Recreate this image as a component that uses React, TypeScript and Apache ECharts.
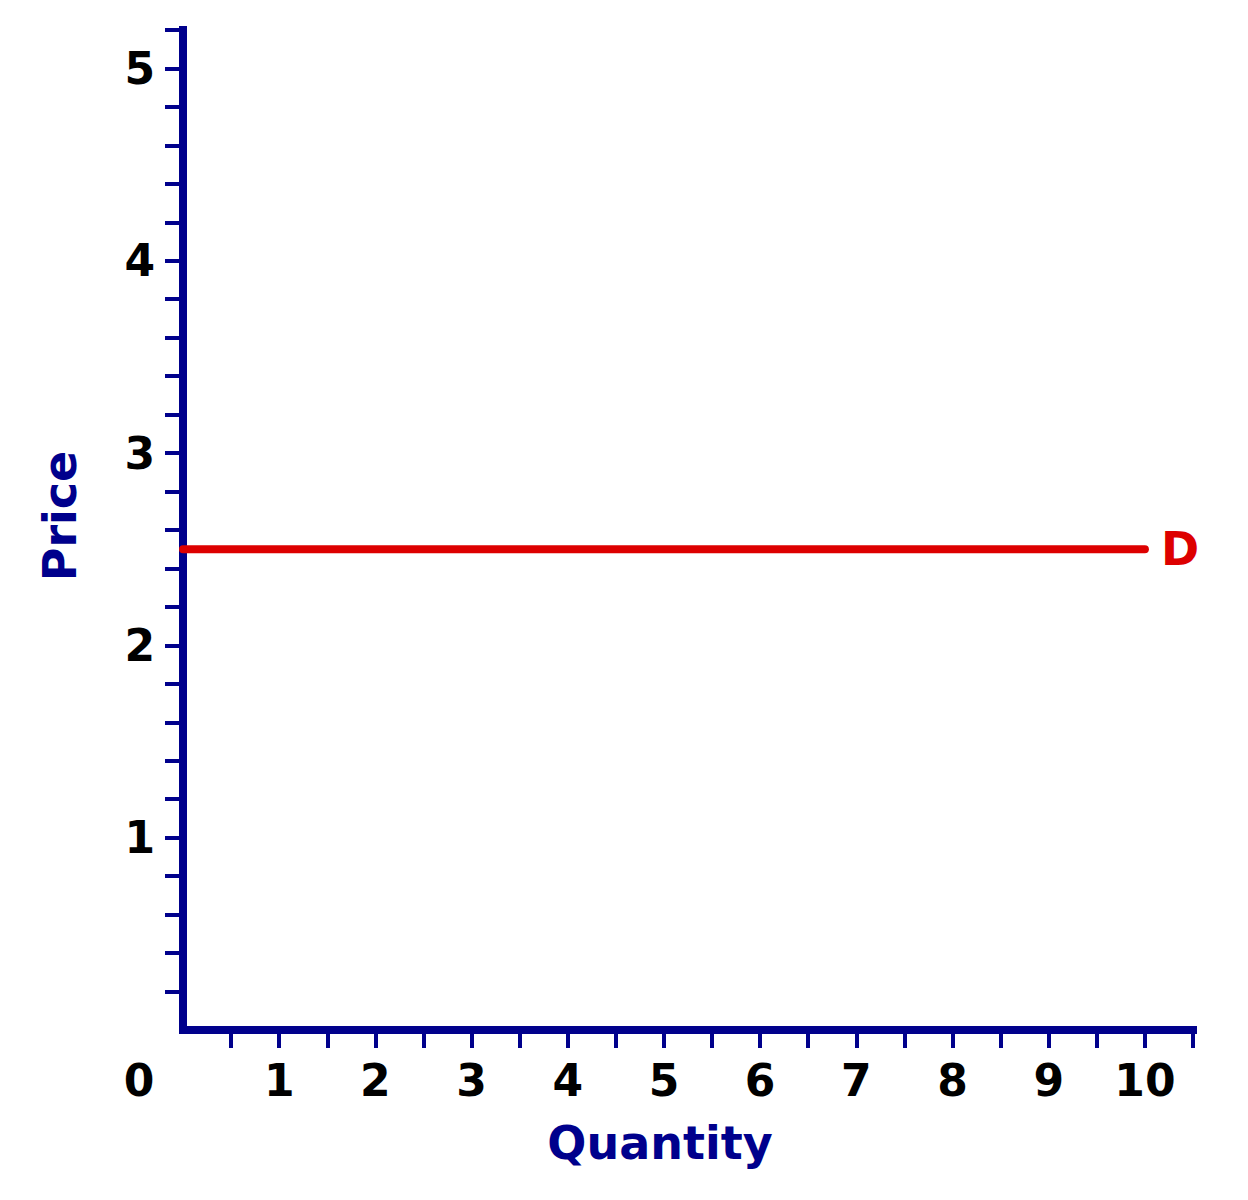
import React, { useEffect, useRef } from 'react';
import * as echarts from 'echarts';

// demand curve: horizontal at price 2.5
const demandQuantity = [0, 10];
const demandPrice = [2.5, 2.5];

const xTickValues = [0.5, 1, 1.5, 2, 2.5, 3, 3.5, 4, 4.5, 5, 5.5, 6, 6.5, 7, 7.5, 8, 8.5, 9, 9.5, 10, 10.5];
const xLabelValues = [0, 1, 2, 3, 4, 5, 6, 7, 8, 9, 10];
const yTickValues = [
  0.2, 0.4, 0.6, 0.8, 1, 1.2, 1.4, 1.6, 1.8, 2, 2.2, 2.4, 2.6, 2.8, 3,
  3.2, 3.4, 3.6, 3.8, 4, 4.2, 4.4, 4.6, 4.8, 5, 5.2,
];
const yLabelValues = [1, 2, 3, 4, 5];

const NAVY = '#00008c';
const RED = '#dd0000';
const FONT = '"DejaVu Sans", Verdana, sans-serif';

const App: React.FC = () => {
  const chartRef: any = useRef(null);

  useEffect(() => {
    document.body.style.margin = '0';
    const chart = echarts.init(chartRef.current, undefined, { renderer: 'svg' });
    const option = {
      animation: false,
      grid: { left: 183, right: 55, top: 30, bottom: 170 },
      xAxis: {
        type: 'value',
        min: 0,
        max: 10.5,
        interval: 0.5,
        splitLine: { show: false },
        name: 'Quantity',
        nameLocation: 'middle',
        nameGap: 90,
        nameTextStyle: {
          color: NAVY, fontSize: 46, fontWeight: 'bold', fontFamily: FONT,
          padding: [0, 56, 0, 0],
        },
        axisLine: { lineStyle: { color: NAVY, width: 8, cap: 'square' } },
        axisTick: {
          customValues: xTickValues,
          length: 18,
          lineStyle: { color: NAVY, width: 4 },
        },
        axisLabel: {
          customValues: xLabelValues,
          margin: 28,
          color: '#000',
          fontSize: 44,
          fontWeight: 'bold',
          fontFamily: FONT,
          formatter: (v: number) => (v === 0 ? '{z|0}' : String(v)),
          rich: {
            z: {
              color: '#000', fontSize: 44, fontWeight: 'bold', fontFamily: FONT,
              padding: [0, 88, 0, 0],
            },
          },
        },
      },
      yAxis: {
        type: 'value',
        min: 0,
        max: 5.2,
        interval: 0.2,
        splitLine: { show: false },
        name: 'Price',
        nameLocation: 'middle',
        nameGap: 100,
        nameTextStyle: {
          color: NAVY, fontSize: 46, fontWeight: 'bold', fontFamily: FONT,
          padding: [0, 0, 0, 28],
        },
        axisLine: { lineStyle: { color: NAVY, width: 8, cap: 'square' } },
        axisTick: {
          customValues: yTickValues,
          length: 18,
          lineStyle: { color: NAVY, width: 4 },
        },
        axisLabel: {
          customValues: yLabelValues,
          margin: 28,
          color: '#000',
          fontSize: 44,
          fontWeight: 'bold',
          fontFamily: FONT,
        },
      },
      series: [
        {
          name: 'D',
          type: 'line',
          data: demandQuantity.map((q, i) => [q, demandPrice[i]]),
          symbol: 'none',
          lineStyle: { color: RED, width: 8, cap: 'round' },
          endLabel: {
            show: true,
            formatter: 'D',
            distance: 16,
            color: RED,
            fontSize: 46,
            fontWeight: 'bold',
            fontFamily: FONT,
          },
          z: 1,
        },
      ],
    };
    chart.setOption(option);
    return () => {
      chart.dispose();
    };
  }, []);

  return <div ref={chartRef} style={{ width: 1248, height: 1200 }}></div>;
};

export default App;
